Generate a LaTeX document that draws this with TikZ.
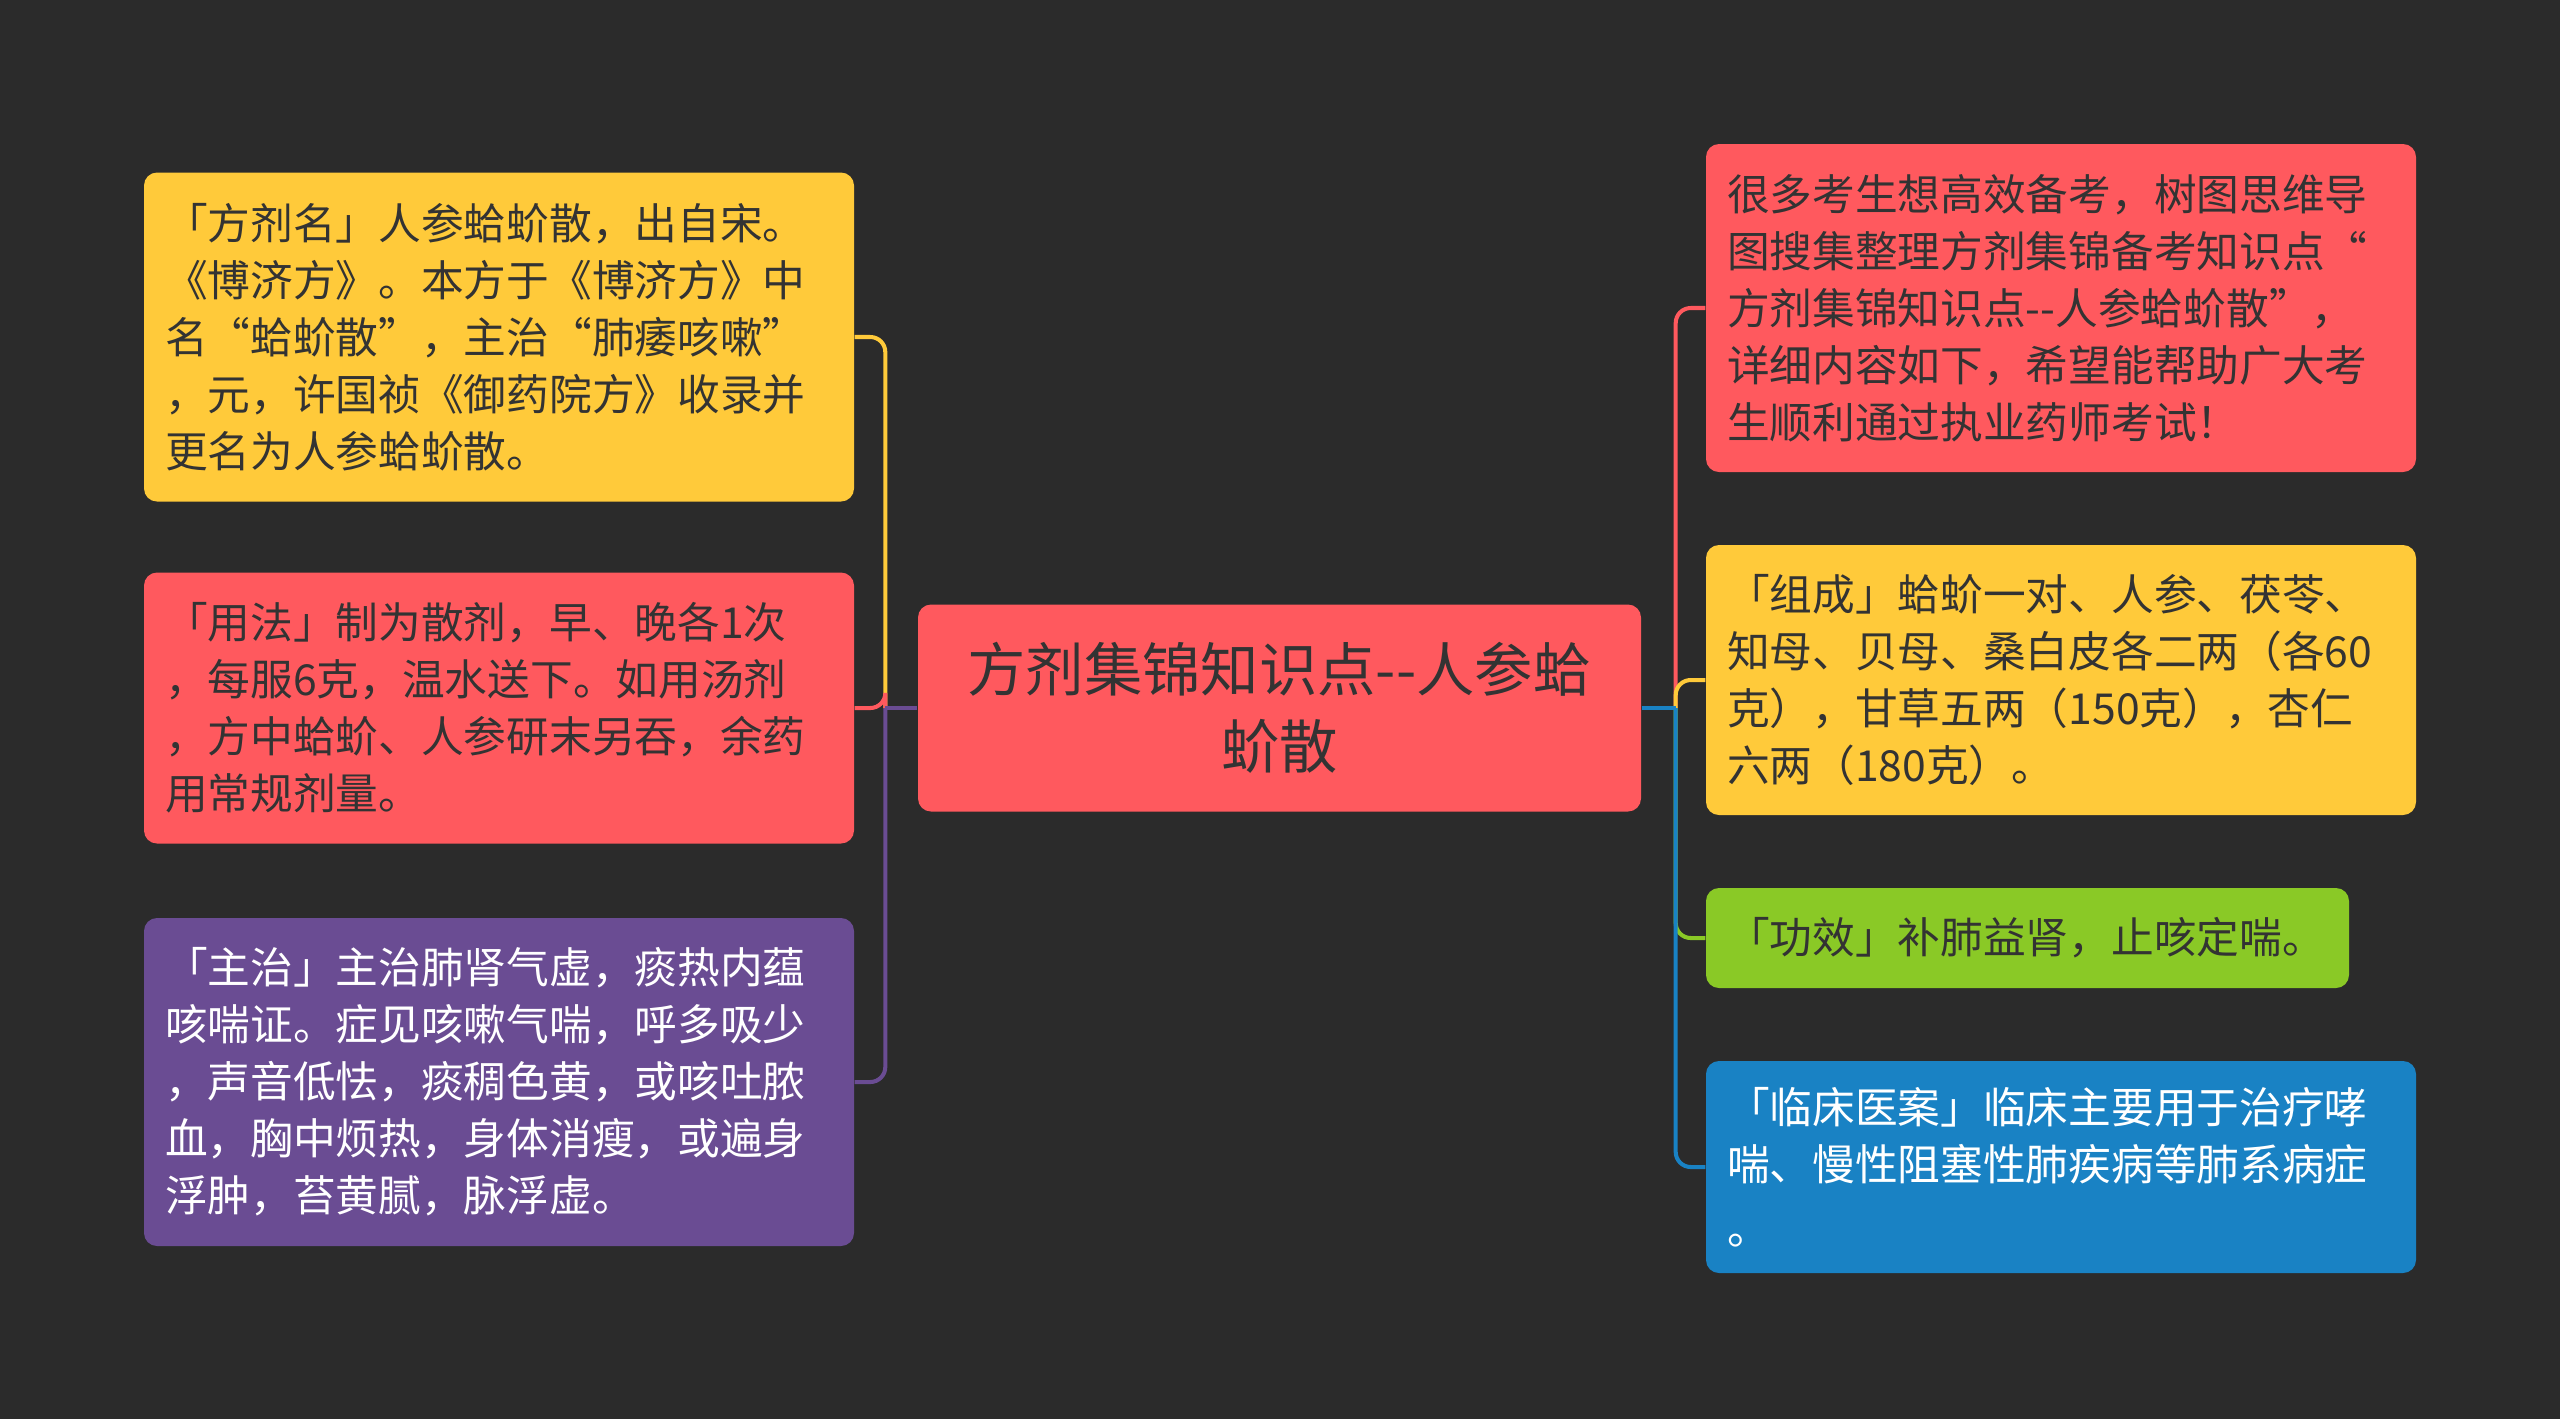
\documentclass[tikz,border=0pt]{standalone}
\usepackage{fontspec}
\setmainfont{Noto Sans CJK SC}
\usetikzlibrary{calc}
\definecolor{board}{HTML}{2B2B2B}
\definecolor{ink}{HTML}{333333}
\definecolor{coral}{HTML}{FF595E}
\definecolor{sun}{HTML}{FFCA3A}
\definecolor{grape}{HTML}{6A4C93}
\definecolor{leaf}{HTML}{8AC926}
\definecolor{sea}{HTML}{1982C4}

\begin{document}
\begin{tikzpicture}[text=ink,
  card/.style={rounded corners=0.13cm,inner xsep=0.21cm,inner ysep=0pt,align=left,
    text width=6.68cm,minimum height=#1,font=\fontsize{12.15}{16.2}\selectfont},
  link/.style={line width=1.15pt,rounded corners=0.15cm}]
  \fill[board] (0,0) rectangle (25.6,-14.19);
  \useasboundingbox (0,0) rectangle (25.6,-14.19);

  \node[fill=coral,rounded corners=0.13cm,minimum width=7.23cm,minimum height=2.07cm,
    align=center,font=\fontsize{16.6}{21.9}\selectfont] (main) at (12.795,-7.08)
    {方剂集锦知识点-{}-人参蛤\\蚧散};

  % left side
  \node[card=3.29cm,fill=sun] (l1) at (4.99,-3.37) {「方剂名」人参蛤蚧散，出自宋。\\《博济方》。本方于《博济方》中\\名“蛤蚧散”，主治“肺痿咳嗽”\\，元，许国祯《御药院方》收录并\\更名为人参蛤蚧散。};
  \node[card=2.71cm,fill=coral] (l2) at (4.99,-7.08) {「用法」制为散剂，早、晚各1次\\，每服6克，温水送下。如用汤剂\\，方中蛤蚧、人参研末另吞，余药\\用常规剂量。};
  \node[card=3.28cm,fill=grape,text=white] (l3) at (4.99,-10.82) {「主治」主治肺肾气虚，痰热内蕴\\咳喘证。症见咳嗽气喘，呼多吸少\\，声音低怯，痰稠色黄，或咳吐脓\\血，胸中烦热，身体消瘦，或遍身\\浮肿，苔黄腻，脉浮虚。};

  % right side
  \node[card=3.28cm,fill=coral] (r1) at (20.61,-3.08) {很多考生想高效备考，树图思维导\\图搜集整理方剂集锦备考知识点“\\方剂集锦知识点-{}-人参蛤蚧散”，\\详细内容如下，希望能帮助广大考\\生顺利通过执业药师考试！};
  \node[card=2.70cm,fill=sun] (r2) at (20.61,-6.80) {「组成」蛤蚧一对、人参、茯苓、\\知母、贝母、桑白皮各二两（各60\\克），甘草五两（150克），杏仁\\六两（180克）。};
  \node[card=1.00cm,fill=leaf,text width=6.01cm] (r3) at (20.275,-9.38) {「功效」补肺益肾，止咳定喘。};
  \node[card=2.12cm,fill=sea,text=white] (r4) at (20.61,-11.67) {「临床医案」临床主要用于治疗哮\\喘、慢性阻塞性肺疾病等肺系病症\\[2pt]。};

  \coordinate (lj) at ($(main.west)+(-0.32,0)$);
  \coordinate (rj) at ($(main.east)+(0.34,0)$);
  \foreach \n/\c in {l1/sun,l2/coral,l3/grape}{\draw[link,\c] (lj) |- (\n.east);}
  \draw[link,grape] (main.west) -- (lj);
  \foreach \n/\c in {r1/coral,r2/sun,r3/leaf,r4/sea}{\draw[link,\c] (rj) |- (\n.west);}
  \draw[link,sea] (main.east) -- (rj);
\end{tikzpicture}
\end{document}
